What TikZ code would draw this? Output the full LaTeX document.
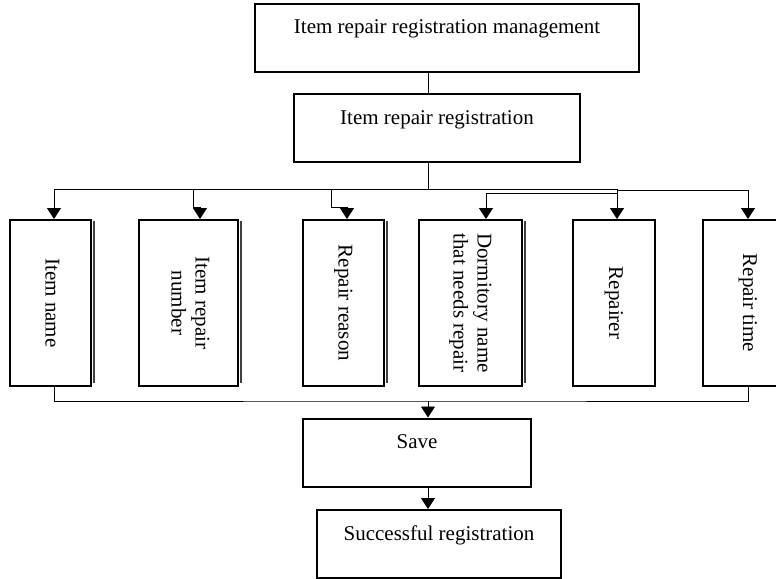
\documentclass[tikz,border=0pt]{standalone}
\usepackage{graphicx}
\usepackage{fontspec}
\setmainfont{Liberation Serif}
\usetikzlibrary{arrows.meta}

\newcommand{\vtext}[1]{\rotatebox{-90}{\begin{tabular}{@{}c@{}}#1\end{tabular}}}

\tikzset{
  blk/.style={draw, line width=2pt, inner sep=0pt, text height=30pt, text depth=38pt},
  vblk/.style={draw, line width=2pt, inner sep=0pt, minimum height=166pt},
  line/.style={line width=0.9pt},
  arr/.style={line width=0.9pt, -{Triangle[length=11pt,width=14pt]}},
  edge/.style={line width=1.6pt, color=black!75}
}

\begin{document}
\begin{tikzpicture}[x=1pt, y=-1pt, font=\fontsize{21}{24}\selectfont]
    \useasboundingbox (0,0) rectangle (776,578);

    % boxes
    \node[blk, minimum width=384pt] (mgmt) at (447,38) {Item repair registration management};
    \node[blk, minimum width=286pt] (reg) at (437,128) {Item repair registration};

    \node[vblk, minimum width=81pt] (name) at (50.5,303) {\vtext{Item name}};
    \node[vblk, minimum width=99pt] (num) at (188.5,303) {\vtext{Item repair\\number}};
    \node[vblk, minimum width=81pt] (reason) at (343.5,303) {\vtext{Repair reason}};
    \node[vblk, minimum width=103pt] (dorm) at (470.5,303) {\vtext{Dormitory name\\that needs repair}};
    \node[vblk, minimum width=82pt] (repairer) at (614,303) {\vtext{Repairer}};
    \node[vblk, minimum width=90pt] (time) at (748,303) {\vtext{Repair time}};

    \node[blk, minimum width=228pt] (save) at (417,452.5) {Save};
    \node[blk, minimum width=244pt] (done) at (439,544) {Successful registration};

    % edges on the right of some boxes
    \foreach \b in {name,num,reason,dorm}
      \draw[edge] ([xshift=2pt,yshift=-2pt]\b.north east) -- ([xshift=2pt,yshift=4pt]\b.south east);

    % bus points
    \coordinate (b0) at (428,189);
    \coordinate (b1) at (54,189);
    \coordinate (b2) at (193,189);
    \coordinate (b3) at (331,189);
    \coordinate (b4) at (617,193);
    \coordinate (b5) at (617,189);
    \coordinate (b6) at (428,401);

    \draw[line] (b0 |- mgmt.south) -- (b0 |- reg.north);
    \draw[line] (b0 |- reg.south) -- (b0);
    \draw[line] (b1) -- (b5);

    \draw[arr] (b1) -- (b1 |- name.north);
    \draw[arr] (b2) -- ++(0,18) -| ([xshift=11.5pt]num.north);
    \draw[arr] (b3) -- ++(0,18) -| ([xshift=3.5pt]reason.north);
    \draw[arr] (b4) -| ([xshift=15.5pt]dorm.north);
    \draw[arr] (b5) -- ([xshift=3pt]repairer.north);
    \draw[arr] ([yshift=-1.5pt]b5) -| (time.north);

    \draw[line] ([xshift=3.5pt]name.south) |- (b6) -| (time.south);
    \draw[arr] (b6) -- (b6 |- save.north);
    \draw[arr] (b6 |- save.south) -- (b6 |- done.north);
\end{tikzpicture}
\end{document}
